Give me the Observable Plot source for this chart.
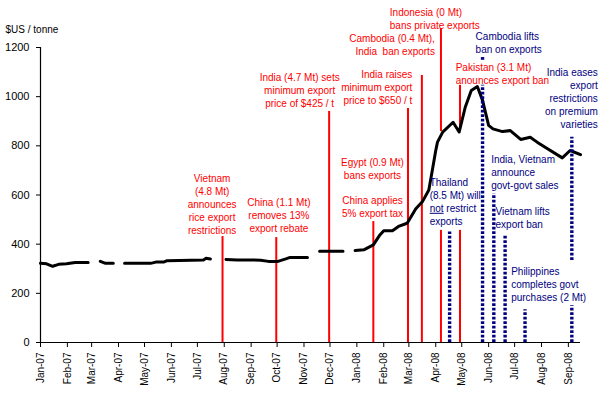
<!DOCTYPE html>
<html>
<head>
<meta charset="utf-8">
<script src="https://cdn.jsdelivr.net/npm/d3@7"></script>
<script src="https://cdn.jsdelivr.net/npm/@observablehq/plot@0.6"></script>
<style>
  html, body { margin: 0; padding: 0; background: #fff; }
  #chart { width: 604px; height: 395px; }
</style>
</head>
<body>
<div id="chart"></div>
<script>
// ---- Data ----
const months = ["2007-01-01","2007-02-01","2007-03-01","2007-04-01","2007-05-01","2007-06-01","2007-07-01",
  "2007-08-01","2007-09-01","2007-10-01","2007-11-01","2007-12-01","2008-01-01","2008-02-01","2008-03-01",
  "2008-04-01","2008-05-01","2008-06-01","2008-07-01","2008-08-01","2008-09-01"];
const yTicks = [0, 200, 400, 600, 800, 1000, 1200];
const unitLabel = "$US / tonne";

const priceDates = ["2007-01-01","2007-01-08","2007-01-15","2007-01-22","2007-01-31","2007-02-10","2007-02-25",
  "2007-03-04","2007-03-11","2007-03-17","2007-03-26","2007-04-01","2007-04-08","2007-05-08","2007-05-14",
  "2007-05-23","2007-05-27","2007-07-08","2007-07-11","2007-07-16","2007-07-25","2007-08-03","2007-08-16",
  "2007-09-12","2007-09-21","2007-10-02","2007-10-11","2007-10-16","2007-11-05","2007-11-12","2007-11-19",
  "2007-12-16","2007-12-23","2007-12-30","2008-01-09","2008-01-20","2008-01-27","2008-02-01","2008-02-11",
  "2008-02-18","2008-02-28","2008-03-09","2008-03-17","2008-03-24","2008-03-28","2008-04-01","2008-04-03",
  "2008-04-09","2008-04-21","2008-04-28","2008-05-05","2008-05-12","2008-05-19","2008-05-25","2008-06-01",
  "2008-06-06","2008-06-17","2008-06-26","2008-07-08","2008-07-19","2008-07-27","2008-08-08","2008-08-25",
  "2008-09-03","2008-09-15"];
const priceValues = [322,320,310,318,320,325,325,
  NaN,330,322,322,NaN,322,322,327,
  327,333,336,343,340,NaN,338,336,
  335,330,330,340,346,346,NaN,371,
  371,NaN,374,377,397,435,455,455,
  472,485,544,575,620,700,781,815,
  856,896,856,957,1025,1041,985,883,
  869,858,862,826,835,815,788,751,
  781,764];

// Export-restriction events (red) – vertical segments
const redLineDates = ["2007-07-30","2007-09-30","2007-11-30","2008-01-20","2008-02-29","2008-03-16",
  "2008-04-07","2008-04-07","2008-04-29","2008-04-29"];
const redLineFrom = [0,0,0,0,0,0,0,858,0,858];
const redLineTo   = [431,427,940,492,952,1086,456,1277,456,1046];

// Easing events (navy, dotted) – vertical segments
const navyLineDates = ["2008-04-17","2008-05-25","2008-05-25","2008-06-07","2008-06-20","2008-07-13","2008-09-05","2008-09-05"];
const navyLineFrom = [0,0,1148,0,0,0,0,334];
const navyLineTo   = [449,1046,1161,605,435,133,150,835];

const redNotes = [
  "Vietnam\n(4.8 Mt)\nannounces\nrice export\nrestrictions",
  "China (1.1 Mt)\nremoves 13%\nexport rebate",
  "India (4.7 Mt) sets\nminimum export\nprice of $425 / t",
  "Egypt (0.9 Mt)\nbans exports",
  "China applies\n5% export tax",
  "India raises\nminimum export\nprice to $650 / t",
  "Cambodia (0.4 Mt),\nIndia  ban exports",
  "Indonesia (0 Mt)\nbans private exports",
  "Pakistan (3.1 Mt)\nanounces export ban"
];
const redNoteDates = ["2007-07-18","2007-10-03","2007-10-27","2008-01-19","2008-01-19","2008-03-05","2008-03-31","2008-02-08","2008-04-24"];
const redNoteValues = [565,521,1029,708,552,1040,1212,1320,1093];
const redNoteAlign = ["middle","middle","middle","middle","middle","end","end","start","start"];

const navyNotes = [
  "Thailand\n(8.5 Mt) will\nnot restrict\nexports",
  "Cambodia lifts\nban on exports",
  "India eases\nexport\nrestrictions\non premium\nvarieties",
  "India, Vietnam\nannounce\ngovt-govt sales",
  "Vietnam lifts\nexport ban",
  "Philippines\ncompletes govt\npurchases (2 Mt)"
];
const navyNoteDates = ["2008-03-25","2008-05-17","2008-10-05","2008-06-04","2008-06-09","2008-06-27"];
const navyNoteValues = [575,1223,994,694,511,238];
const navyNoteAlign = ["start","start","end","start","start","start"];

// ---- Build tables ----
const parse = d3.utcParse("%Y-%m-%d");
const price = priceDates.map((d, i) => ({date: parse(d), value: priceValues[i]}));
const redSegs = redLineDates.map((d, i) => ({date: parse(d), from: redLineFrom[i], to: redLineTo[i]}));
const navySegs = navyLineDates.map((d, i) => ({date: parse(d), from: navyLineFrom[i], to: navyLineTo[i]}));
const redTable = redNotes.map((t, i) => ({text: t, date: parse(redNoteDates[i]), value: redNoteValues[i], align: redNoteAlign[i]}));
const navyTable = navyNotes.map((t, i) => ({text: t, date: parse(navyNoteDates[i]), value: navyNoteValues[i], align: navyNoteAlign[i]}));
const tickDates = months.map(parse);

const RED = "#ff0000", NAVY = "#000080";
const noteMarks = (table, color) => ["start", "middle", "end"].map(a =>
  Plot.text(table.filter(d => d.align === a), {
    x: "date", y: "value", text: "text", textAnchor: a, lineAnchor: "middle",
    lineHeight: 1.3, fill: color, fontSize: 10
  }));

const chart = Plot.plot({
  width: 604, height: 395,
  marginLeft: 40, marginRight: 24, marginTop: 47, marginBottom: 53,
  style: {fontFamily: '"Liberation Sans", Arial, sans-serif', fontSize: "10px", color: "#000", background: "#fff", overflow: "visible"},
  x: {type: "utc", domain: [parse("2007-01-01"), parse("2008-09-15")]},
  y: {domain: [0, 1200]},
  marks: [
    Plot.axisY({ticks: yTicks, tickFormat: d3.format("d"), tickSize: 4, tickPadding: 7, fontSize: 11, label: null}),
    Plot.axisX({ticks: tickDates, tickFormat: d3.utcFormat("%b-%y"), tickRotate: -90, tickSize: 5, tickPadding: 5, fontSize: 10, label: null}),
    Plot.ruleY([0], {stroke: "#000", strokeWidth: 1.2}),
    Plot.ruleX([tickDates[0]], {y1: 0, y2: 1200, stroke: "#000", strokeWidth: 1.2}),
    Plot.ruleX(redSegs, {x: "date", y1: "from", y2: "to", stroke: RED, strokeWidth: 2}),
    Plot.line(price, {x: "date", y: "value", stroke: "#000", strokeWidth: 3, strokeLinejoin: "round"}),
    Plot.ruleX(navySegs, {x: "date", y1: "from", y2: "to", stroke: NAVY, strokeWidth: 3.4, strokeDasharray: "2.7,1.8"}),
    ...noteMarks(redTable, RED),
    ...noteMarks(navyTable, NAVY),
    Plot.text([unitLabel], {frameAnchor: "top-left", textAnchor: "start", dx: -35, dy: -22, fontSize: 10, fill: "#000"})
  ]
});

// underline "not" in the Thailand note
d3.select(chart).selectAll("tspan").filter(function() { return this.textContent === "not restrict"; })
  .each(function() {
    const t = d3.select(this);
    t.text("");
    t.append("tspan").attr("text-decoration", "underline").text("not");
    t.append("tspan").text(" restrict");
  });

document.getElementById("chart").appendChild(chart);
</script>
</body>
</html>
